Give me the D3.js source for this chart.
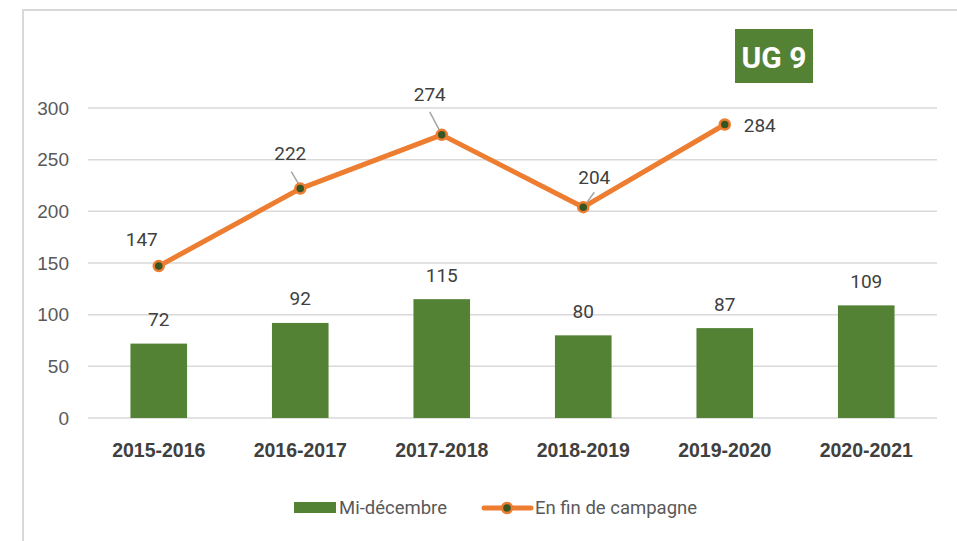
<!DOCTYPE html>
<html><head><meta charset="utf-8">
<script src="https://cdn.jsdelivr.net/npm/d3@7"></script>
<style>
html,body{margin:0;padding:0;background:#fff;}
svg{display:block;font-family:Roboto,"Noto Sans",sans-serif;}
</style></head>
<body><svg id="c" width="957" height="541"></svg>
<script>
const categories = ["2015-2016","2016-2017","2017-2018","2018-2019","2019-2020","2020-2021"];
const midDecember = [72, 92, 115, 80, 87, 109];
const endCampaign = [147, 222, 274, 204, 284, null];
const yTicks = [0, 50, 100, 150, 200, 250, 300];
const seriesNames = ["Mi-décembre", "En fin de campagne"];
const badge = "UG 9";

const svg = d3.select("#c");
const green = "#548235", orange = "#ED7D31", dark = "#375623";

// outer frame
svg.append("path").attr("d","M23,545 L23,10 L962,10").attr("fill","none").attr("stroke","#d9d9d9").attr("stroke-width",2);

const x = d3.scaleBand().domain(categories).range([88, 937]).paddingInner(0.6).paddingOuter(0.3);
const xc = d => x(d) + x.bandwidth()/2;
const y = d3.scaleLinear().domain([0, 300]).range([418, 108]);

// gridlines
svg.append("g").selectAll("line").data(yTicks).join("line")
  .attr("x1",88).attr("x2",937).attr("y1",d=>y(d)).attr("y2",d=>y(d))
  .attr("stroke","#d9d9d9").attr("stroke-width",1.5);

// y axis
const ya = svg.append("g").attr("transform","translate(69,0)")
  .call(d3.axisLeft(y).tickValues(yTicks).tickSize(0).tickPadding(0));
ya.select(".domain").remove();
ya.selectAll("text").attr("font-size",19).attr("fill","#595959").attr("font-family","inherit");

// x axis
const xa = svg.append("g").attr("transform","translate(0,418)")
  .call(d3.axisBottom(x).tickSize(0).tickPadding(25));
xa.select(".domain").remove();
xa.selectAll("text").attr("font-size",19.5).attr("font-weight","bold").attr("fill","#404040").attr("font-family","inherit");

// bars
svg.append("g").selectAll("rect").data(midDecember).join("rect")
  .attr("x",(d,i)=>x(categories[i])).attr("width",x.bandwidth())
  .attr("y",d=>y(d)).attr("height",d=>y(0)-y(d)).attr("fill",green);
svg.append("g").selectAll("text").data(midDecember).join("text")
  .attr("x",(d,i)=>xc(categories[i])).attr("y",d=>y(d)-24)
  .attr("text-anchor","middle").attr("dominant-baseline","central")
  .attr("font-size",19).attr("fill","#404040").text(d=>d);

// line
const pts = endCampaign.map((v,i)=>({c:categories[i],v})).filter(d=>d.v!=null);
svg.append("path").datum(pts)
  .attr("d", d3.line().x(d=>xc(d.c)).y(d=>y(d.v)))
  .attr("fill","none").attr("stroke",orange).attr("stroke-width",5).attr("stroke-linejoin","round");

// label offsets (dx, dy) for line labels and leader lines
const lblOff = [[-17,-27],[-10,-35],[-12,-40],[11,-30],[35,1]];
const leaders = [null,[[-9,-17],[0,-2]],[[-12,-23],[-1,-2]],[[11,-15],[1,-1]],null];
const lg = svg.append("g");
pts.forEach((p,i)=>{
  const px = xc(p.c), py = y(p.v);
  if (leaders[i]) lg.append("line")
    .attr("x1",px+leaders[i][0][0]).attr("y1",py+leaders[i][0][1])
    .attr("x2",px+leaders[i][1][0]).attr("y2",py+leaders[i][1][1])
    .attr("stroke","#a6a6a6").attr("stroke-width",1.5);
});
svg.append("g").selectAll("circle").data(pts).join("circle")
  .attr("cx",d=>xc(d.c)).attr("cy",d=>y(d.v)).attr("r",5)
  .attr("fill",dark).attr("stroke",orange).attr("stroke-width",2.5);
svg.append("g").selectAll("text").data(pts).join("text")
  .attr("x",(d,i)=>xc(d.c)+lblOff[i][0]).attr("y",(d,i)=>y(d.v)+lblOff[i][1])
  .attr("text-anchor","middle").attr("dominant-baseline","central")
  .attr("font-size",19).attr("fill","#404040").text(d=>d.v);

// badge
const bg = svg.append("g");
bg.append("rect").attr("x",735).attr("y",29).attr("width",78).attr("height",54).attr("fill",green);
bg.append("text").attr("x",774).attr("y",57).attr("text-anchor","middle").attr("dominant-baseline","central")
  .attr("font-size",30).attr("font-weight","bold").attr("fill","#fff").text(badge);

// legend
const leg = svg.append("g");
leg.append("rect").attr("x",294).attr("y",502).attr("width",42).attr("height",11).attr("fill",green);
leg.append("text").attr("x",339).attr("y",508).attr("dominant-baseline","central").attr("font-size",18.5).attr("fill","#595959").text(seriesNames[0]);
leg.append("line").attr("x1",484).attr("x2",531).attr("y1",508).attr("y2",508).attr("stroke",orange).attr("stroke-width",5).attr("stroke-linecap","round");
leg.append("circle").attr("cx",507).attr("cy",508).attr("r",5).attr("fill",dark).attr("stroke",orange).attr("stroke-width",2.5);
leg.append("text").attr("x",535).attr("y",508).attr("dominant-baseline","central").attr("font-size",18.5).attr("fill","#595959").text(seriesNames[1]);
</script></body></html>
